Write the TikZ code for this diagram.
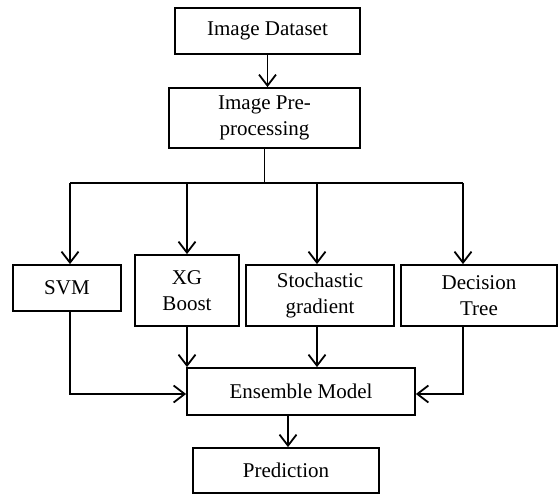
\documentclass[tikz,border=0pt]{standalone}
\usepackage{fontspec}
\setmainfont{Liberation Serif}
\usetikzlibrary{arrows.meta}
\begin{document}
\begin{tikzpicture}[x=1pt,y=-1pt,
  box/.style={draw,line width=1.8pt,inner sep=0pt,align=center,
    font=\fontsize{21pt}{26pt}\selectfont},
  conn/.style={line width=1.8pt},
  arr/.style={conn,-{Straight Barb[length=11pt,width=17pt,line width=1.8pt]}}]
\useasboundingbox (0,0) rectangle (559,494);
\node[box,minimum width=185pt,minimum height=46pt] (ds) at (267.5,31) {Image Dataset};
\node[box,minimum width=191pt,minimum height=60pt] (pre) at (264.5,118) {Image Pre-\\processing};
\node[box,minimum width=108pt,minimum height=46pt] (svm) at (67,288) {SVM};
\node[box,minimum width=104pt,minimum height=71pt] (xg) at (187,290.5) {XG\\Boost};
\node[box,minimum width=148pt,minimum height=61pt] (st) at (320,295.5) {Stochastic\\gradient};
\node[box,minimum width=156pt,minimum height=61pt] (dt) at (479,295.5) {Decision\\Tree};
\node[box,minimum width=228pt,minimum height=47pt] (ens) at (301,391.5) {Ensemble Model};
\node[box,minimum width=186pt,minimum height=45pt] (pred) at (286,470.5) {Prediction};
\coordinate (b1) at (70,183);
\coordinate (b2) at (187,183);
\coordinate (b3) at (317,183);
\coordinate (b4) at (463,183);
\draw[arr] (ds.south) -- (ds.south |- pre.north);
\draw[conn] (pre.south) -- (pre.south |- b1);
\draw[conn] (b1) -- (b4);
\draw[arr] (b1) -- (b1 |- svm.north);
\draw[arr] (b2) -- (b2 |- xg.north);
\draw[arr] (b3) -- (b3 |- st.north);
\draw[arr] (b4) -- (b4 |- dt.north);
\draw[arr] (b1 |- svm.south) |- ([yshift=-2.5pt]ens.west);
\draw[arr] (xg.south) -- (xg.south |- ens.north);
\draw[arr] (b3 |- st.south) -- (b3 |- ens.north);
\draw[arr] (b4 |- dt.south) |- ([yshift=-2.5pt]ens.east);
\draw[arr] ([xshift=2pt]pred.north |- ens.south) -- ([xshift=2pt]pred.north);
\end{tikzpicture}
\end{document}
